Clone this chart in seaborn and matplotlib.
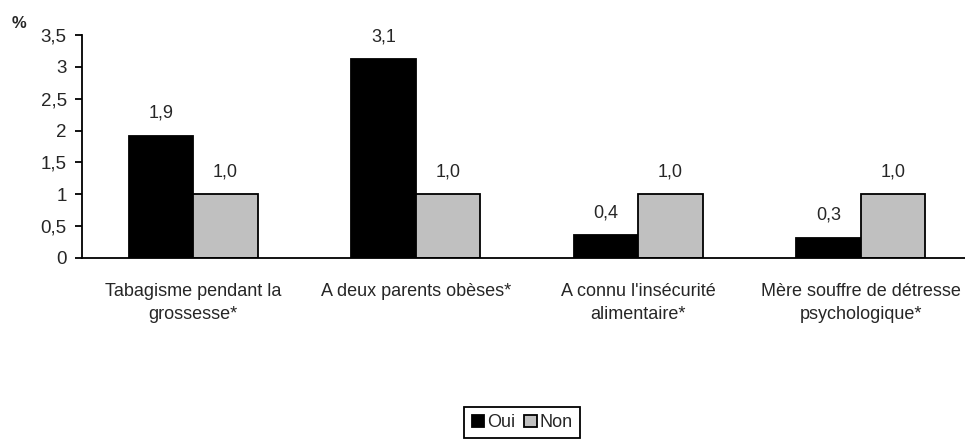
import matplotlib
matplotlib.use("Agg")
import matplotlib.pyplot as plt
import seaborn as sns
import pandas as pd

categories = ["Tabagisme pendant la\ngrossesse*", "A deux parents obèses*",
              "A connu l'insécurité\nalimentaire*", "Mère souffre de détresse\npsychologique*"]
series_names = ["Oui", "Non"]
oui_values = [1.92, 3.12, 0.36, 0.32]
non_values = [1.0, 1.0, 1.0, 1.0]
y_ticks = [0, 0.5, 1, 1.5, 2, 2.5, 3, 3.5]
y_tick_labels = ["0", "0,5", "1", "1,5", "2", "2,5", "3", "3,5"]

df = pd.DataFrame({
    "cat": categories * 2,
    "serie": [series_names[0]] * 4 + [series_names[1]] * 4,
    "val": oui_values + non_values,
})

sns.set_style("white")
plt.rcParams["font.family"] = ["Liberation Sans", "DejaVu Sans"]

FS = 13
fig = plt.figure(figsize=(9.65, 4.41), dpi=100)
W, H = 965, 441
ax = fig.add_axes([82 / W, (H - 258) / H, 890 / W, 223 / H])

sns.barplot(data=df, x="cat", y="val", hue="serie", order=categories,
            hue_order=series_names, palette=["#000000", "#C0C0C0"],
            edgecolor="black", linewidth=1.3, width=0.58, gap=0,
            saturation=1, ax=ax, legend=True)

for cont in ax.containers:
    ax.bar_label(cont, labels=[f"{v:.1f}".replace(".", ",") for v in cont.datavalues],
                 padding=10, fontsize=FS)

ax.set_xlim(-0.5, 3.5)
ax.set_ylim(0, 3.5)
ax.set_yticks(y_ticks)
ax.set_yticklabels(y_tick_labels, fontsize=13.5)
ax.set_xticks(range(4))
ax.set_xticklabels(categories, fontsize=FS)
ax.set_xticks([-0.5, 0.5, 1.5, 2.5, 3.5], minor=True)
ax.tick_params(axis="x", which="major", length=0, pad=18)
ax.tick_params(axis="x", which="minor", length=5, width=1.3, direction="out", color="black")
ax.tick_params(axis="y", length=5, width=1.3, direction="out", color="black", pad=6, left=True)
ax.set_xlabel("")
ax.set_ylabel("")
for s in ["top", "right"]:
    ax.spines[s].set_visible(False)
for s in ["left", "bottom"]:
    ax.spines[s].set_color("black")
    ax.spines[s].set_linewidth(1.3)
for lab in ax.get_xticklabels():
    lab.set_linespacing(1.45)

fig.text(12 / W, 1 - 23 / H, "%", fontsize=12, fontweight="bold", va="center", ha="left")

handles, labels = ax.get_legend_handles_labels()
ax.legend_.remove()
fig.legend(handles, labels, loc="upper center", bbox_to_anchor=(522 / W, 1 - 407 / H),
           ncol=2, frameon=True, fancybox=False, edgecolor="black", framealpha=1,
           fontsize=FS, handlelength=0.7, handleheight=0.7, handletextpad=0.15,
           columnspacing=0.5, borderpad=0.4, borderaxespad=0)
fig.legends[0].get_frame().set_linewidth(1.3)

fig.savefig("out.png", dpi=100)
